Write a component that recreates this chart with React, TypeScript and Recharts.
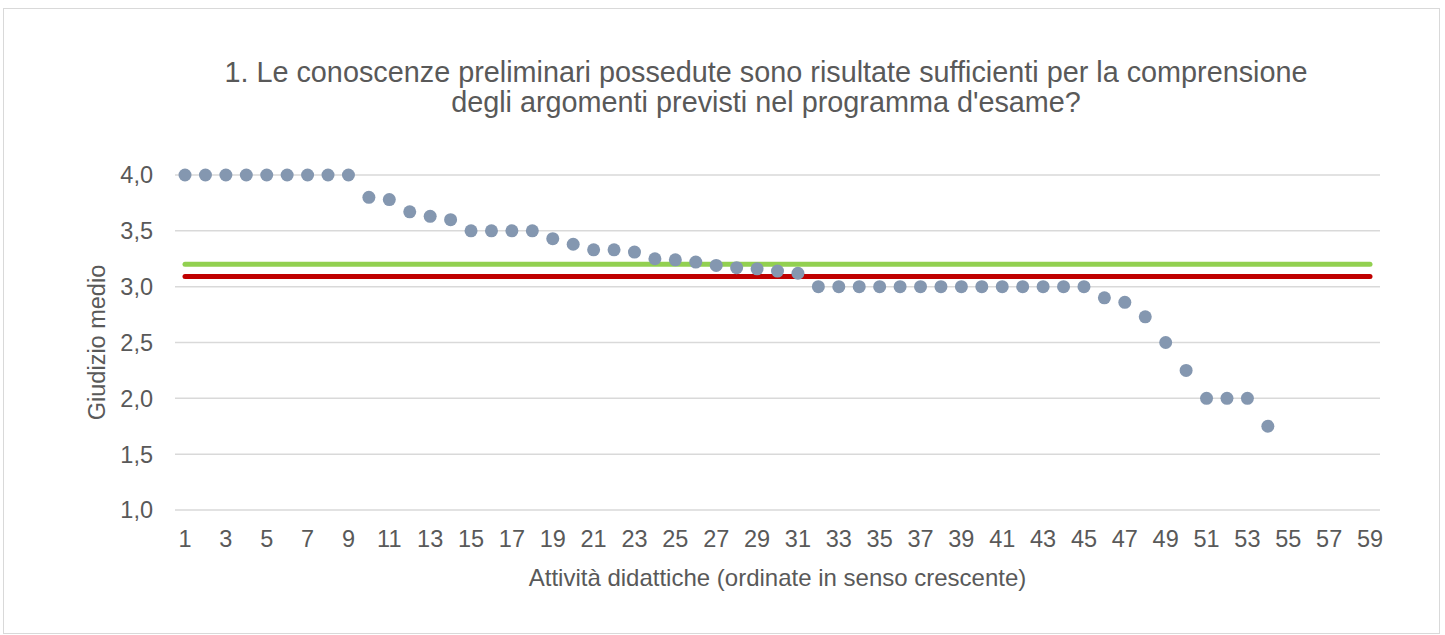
import React from 'react';
import {
  ComposedChart,
  Line,
  XAxis,
  YAxis,
  CartesianGrid,
  Label,
} from 'recharts';

const CATEGORIES = Array.from({ length: 59 }, (_, i) => String(i + 1));

// giudizio medio per attività (ordinate)
const SCORES = [
  4.0, 4.0, 4.0, 4.0, 4.0, 4.0, 4.0, 4.0, 4.0, 3.8,
  3.78, 3.67, 3.63, 3.6, 3.5, 3.5, 3.5, 3.5, 3.43, 3.38,
  3.33, 3.33, 3.31, 3.25, 3.24, 3.22, 3.19, 3.17, 3.16, 3.14,
  3.12, 3.0, 3.0, 3.0, 3.0, 3.0, 3.0, 3.0, 3.0, 3.0,
  3.0, 3.0, 3.0, 3.0, 3.0, 2.9, 2.86, 2.73, 2.5, 2.25,
  2.0, 2.0, 2.0, 1.75,
];

const GREEN_AVG = 3.2;
const RED_AVG = 3.09;

const Y_TICKS = [1, 1.5, 2, 2.5, 3, 3.5, 4];

const TITLE_LINES = [
  '1. Le conoscenze preliminari possedute sono risultate sufficienti per la comprensione',
  "degli argomenti previsti nel programma d'esame?",
];

const data = CATEGORIES.map((c, i) => ({
  cat: c,
  score: SCORES[i],
  green: GREEN_AVG,
  red: RED_AVG,
}));

const FONT = '"Liberation Sans", Arial, sans-serif';
const TEXT = '#595959';
const AXIS_FS = 23.5;

export default function App() {
  return (
    <div
      style={{
        position: 'absolute',
        left: 3,
        top: 8,
        width: 1437,
        height: 626,
        border: '1.5px solid #d9d9d9',
        boxSizing: 'border-box',
        background: '#fff',
        fontFamily: FONT,
      }}
    >
      <div
        style={{
          position: 'absolute',
          left: 0,
          width: 1524,
          top: 48,
          textAlign: 'center',
          fontSize: 28.8,
          lineHeight: '30px',
          color: TEXT,
        }}
      >
        {TITLE_LINES.map((t) => (
          <div key={t}>{t}</div>
        ))}
      </div>
      <ComposedChart
        width={1434}
        height={623}
        data={data}
        margin={{ top: 166, right: 58, left: 0, bottom: 42 }}
      >
        <CartesianGrid vertical={false} stroke="#d9d9d9" strokeWidth={1.5} />
        <XAxis
          dataKey="cat"
          interval={1}
          padding={{ left: 10, right: 10 }}
          tickLine={false}
          axisLine={false}
          tickSize={0}
          tickMargin={20}
          height={80}
          tick={{ fill: TEXT, fontSize: AXIS_FS, fontFamily: FONT }}
        >
          <Label
            value="Attività didattiche (ordinate in senso crescente)"
            position="insideBottom"
            offset={4}
            fill={TEXT}
            fontSize={24}
            fontFamily={FONT}
          />
        </XAxis>
        <YAxis
          domain={[1, 4]}
          ticks={Y_TICKS}
          width={171}
          tickLine={false}
          axisLine={false}
          tickSize={0}
          tickMargin={22}
          tickFormatter={(v: number) => v.toFixed(1).replace('.', ',')}
          tick={{ fill: TEXT, fontSize: AXIS_FS, fontFamily: FONT }}
        >
          <Label
            value="Giudizio medio"
            angle={-90}
            position="center"
            dx={7}
            fill={TEXT}
            fontSize={AXIS_FS}
            fontFamily={FONT}
          />
        </YAxis>
        <Line
          dataKey="green"
          stroke="#92d050"
          strokeWidth={5}
          strokeLinecap="round"
          dot={false}
          activeDot={false}
          isAnimationActive={false}
        />
        <Line
          dataKey="red"
          stroke="#c00000"
          strokeWidth={5}
          strokeLinecap="round"
          dot={false}
          activeDot={false}
          isAnimationActive={false}
        />
        <Line
          dataKey="score"
          stroke="none"
          strokeWidth={0}
          dot={{ r: 6.5, fill: '#8497b0', stroke: 'none' }}
          activeDot={false}
          isAnimationActive={false}
        />
      </ComposedChart>
    </div>
  );
}
